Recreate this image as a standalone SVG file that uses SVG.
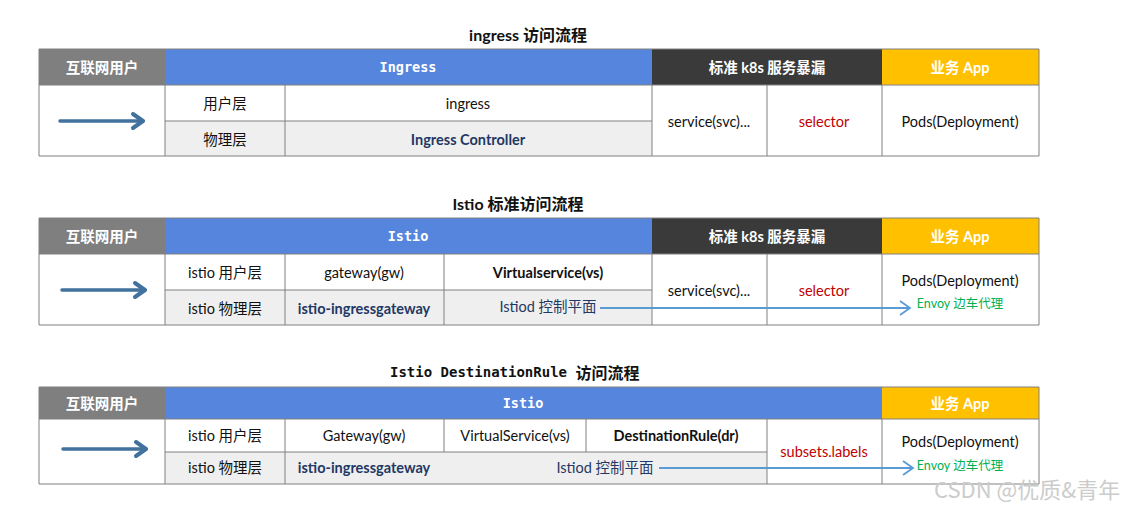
<svg xmlns="http://www.w3.org/2000/svg" width="1125" height="506" viewBox="0 0 1125 506">
<defs>
<style>
text{font-family:Lato,"Noto Sans CJK SC",sans-serif;font-size:14.5px;fill:#111;text-anchor:middle;dominant-baseline:central}
.title{font-size:16px;font-weight:bold}
.mono{font-family:"DejaVu Sans Mono","Liberation Mono","Noto Sans CJK SC",monospace}
.hd{fill:#fff;font-weight:bold}
.hdm{fill:#fff;font-weight:bold;font-family:"DejaVu Sans Mono","Liberation Mono",monospace;font-size:13.5px}
.b{font-weight:bold}
.navy{fill:#1f3864;font-weight:bold}
.navyn{fill:#1f3864}
.red{fill:#c00000}
.green{fill:#00b050;font-size:12.5px}
.grid{stroke:#808080;stroke-width:1;fill:none}
.gray{fill:#7f7f7f}
.blue{fill:#5585dc}
.dark{fill:#3a3a3a}
.yellow{fill:#ffc000}
.row2{fill:#efefef}
.uarrow{stroke:#41719c;stroke-width:3.5;fill:none;stroke-linecap:round}
.flow{stroke:#5b9bd5;stroke-width:1.8;fill:none}
.wm{fill:#cccccc;font-size:22px;font-family:"Noto Sans CJK SC",sans-serif;text-anchor:start}
</style>
<marker id="chev" markerWidth="14" markerHeight="16" refX="12" refY="8" orient="auto" markerUnits="userSpaceOnUse">
<path d="M2,1 L12,8 L2,15" fill="none" stroke="#5b9bd5" stroke-width="1.8"/>
</marker>
<marker id="uchev" markerWidth="20" markerHeight="20" refX="14" refY="10" orient="auto" markerUnits="userSpaceOnUse">
<path d="M4,3 L14,10 L4,17" fill="none" stroke="#41719c" stroke-width="4" stroke-linecap="round" stroke-linejoin="round"/>
</marker>
</defs>

<!-- ===== Table 1 ===== -->
<g id="table1">
<text class="title" x="528" y="34">ingress 访问流程</text>
<rect class="gray" x="39" y="49" width="126" height="36"/>
<rect class="blue" x="165" y="49" width="487" height="36"/>
<rect class="dark" x="652" y="49" width="230" height="36"/>
<rect class="yellow" x="882" y="49" width="157" height="36"/>
<rect fill="#fff" x="39" y="85" width="1000" height="71"/>
<rect class="row2" x="165" y="121" width="487" height="35"/>
<path class="grid" d="M39,49 H1039 M39,85 H1039 M165,121 H652 M39,156 H1039 M39,49 V156 M165,85 V156 M285,85 V156 M652,85 V156 M767,85 V156 M882,85 V156 M1039,49 V156"/>
<g id="t1-user"><text class="hd" x="102" y="67">互联网用户</text></g>
<g id="t1-ingress"><text class="hdm" x="408" y="67">Ingress</text></g>
<g id="t1-k8s"><text class="hd" x="767" y="67">标准 k8s 服务暴漏</text></g>
<g id="t1-app"><text class="hd" x="960" y="67">业务 App</text></g>
<g id="t1-userlayer"><text x="225" y="103">用户层</text></g>
<g id="t1-ingressres"><text x="468" y="103">ingress</text></g>
<g id="t1-physlayer"><text x="225" y="139">物理层</text></g>
<g id="t1-controller"><text class="navy" x="468" y="139">Ingress Controller</text></g>
<g id="t1-svc"><text x="709" y="121">service(svc)...</text></g>
<g id="t1-selector"><text class="red" x="824" y="121">selector</text></g>
<g id="t1-pods"><text x="960" y="121">Pods(Deployment)</text></g>
</g>

<!-- ===== Table 2 ===== -->
<g id="table2">
<text class="title" x="518" y="203">Istio 标准访问流程</text>
<rect class="gray" x="39" y="218" width="126" height="36"/>
<rect class="blue" x="165" y="218" width="487" height="36"/>
<rect class="dark" x="652" y="218" width="230" height="36"/>
<rect class="yellow" x="882" y="218" width="157" height="36"/>
<rect fill="#fff" x="39" y="254" width="1000" height="71"/>
<rect class="row2" x="165" y="290" width="487" height="35"/>
<path class="grid" d="M39,218 H1039 M39,254 H1039 M165,290 H652 M39,325 H1039 M39,218 V325 M165,254 V325 M285,254 V325 M444,254 V325 M652,254 V325 M767,254 V325 M882,254 V325 M1039,218 V325"/>
<g id="t2-user"><text class="hd" x="102" y="236">互联网用户</text></g>
<g id="t2-istio"><text class="hdm" x="408" y="236">Istio</text></g>
<g id="t2-k8s"><text class="hd" x="767" y="236">标准 k8s 服务暴漏</text></g>
<g id="t2-app"><text class="hd" x="960" y="236">业务 App</text></g>
<g id="t2-userlayer"><text x="225" y="272">istio 用户层</text></g>
<g id="t2-gw"><text x="364" y="272">gateway(gw)</text></g>
<g id="t2-vs"><text class="b" x="548" y="272">Virtualservice(vs)</text></g>
<g id="t2-physlayer"><text x="225" y="308">istio 物理层</text></g>
<g id="t2-igw"><text class="navy" x="364" y="308">istio-ingressgateway</text></g>
<g id="t2-istiod"><text class="navyn" x="548" y="306">Istiod 控制平面</text></g>
<g id="t2-svc"><text x="709" y="290">service(svc)...</text></g>
<g id="t2-selector"><text class="red" x="824" y="290">selector</text></g>
<g id="t2-pods"><text x="960" y="280">Pods(Deployment)</text><text class="green" x="960" y="303">Envoy 边车代理</text></g>
</g>

<!-- ===== Table 3 ===== -->
<g id="table3">
<text class="title" x="390" y="372" style="text-anchor:start"><tspan class="mono" style="font-size:14px">Istio DestinationRule </tspan><tspan>访问流程</tspan></text>
<rect class="gray" x="39" y="387" width="126" height="32"/>
<rect class="blue" x="165" y="387" width="717" height="32"/>
<rect class="yellow" x="882" y="387" width="157" height="32"/>
<rect fill="#fff" x="39" y="419" width="1000" height="65"/>
<rect class="row2" x="165" y="452" width="602" height="32"/>
<path class="grid" d="M39,387 H1039 M39,419 H1039 M165,452 H767 M39,484 H1039 M39,387 V484 M165,419 V484 M285,419 V484 M444,419 V452 M586,419 V452 M767,419 V484 M882,419 V484 M1039,387 V484"/>
<g id="t3-user"><text class="hd" x="102" y="403">互联网用户</text></g>
<g id="t3-istio"><text class="hdm" x="523" y="403">Istio</text></g>
<g id="t3-app"><text class="hd" x="960" y="403">业务 App</text></g>
<g id="t3-userlayer"><text x="225" y="435">istio 用户层</text></g>
<g id="t3-gw"><text x="364" y="435">Gateway(gw)</text></g>
<g id="t3-vs"><text x="515" y="435">VirtualService(vs)</text></g>
<g id="t3-dr"><text class="b" x="676" y="435">DestinationRule(dr)</text></g>
<g id="t3-physlayer"><text x="225" y="467">istio 物理层</text></g>
<g id="t3-igw"><text class="navy" x="364" y="467">istio-ingressgateway</text></g>
<g id="t3-istiod"><text class="navyn" x="605" y="467">Istiod 控制平面</text></g>
<g id="t3-subsets"><text class="red" x="824" y="451">subsets.labels</text></g>
<g id="t3-pods"><text x="960" y="441">Pods(Deployment)</text><text class="green" x="960" y="465">Envoy 边车代理</text></g>
</g>

<!-- ===== Connectors ===== -->
<g id="connectors">
<line class="uarrow" x1="60" y1="121" x2="143" y2="121" marker-end="url(#uchev)"/>
<line class="uarrow" x1="62" y1="290" x2="145" y2="290" marker-end="url(#uchev)"/>
<line class="uarrow" x1="63" y1="449" x2="146" y2="449" marker-end="url(#uchev)"/>
<line class="flow" x1="600" y1="308" x2="910" y2="308" marker-end="url(#chev)"/>
<line class="flow" x1="659" y1="468" x2="913" y2="468" marker-end="url(#chev)"/>
</g>

<text class="wm" x="934" y="488">CSDN @优质&amp;青年</text>
</svg>
